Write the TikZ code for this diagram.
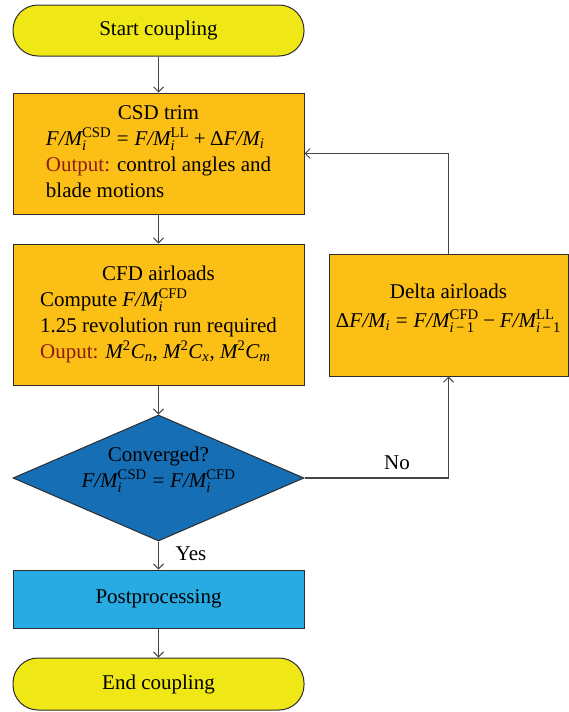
\documentclass[tikz,border=0pt]{standalone}
\usepackage{amsmath}
\usepackage{fontspec}
\setmainfont{Liberation Serif}
\usetikzlibrary{arrows.meta,shapes.geometric}
\definecolor{pill}{RGB}{240,232,22}
\definecolor{ora}{RGB}{251,191,22}
\definecolor{dblue}{RGB}{22,110,181}
\definecolor{lblue}{RGB}{40,170,226}
\definecolor{outred}{RGB}{140,28,20}
\definecolor{edge}{RGB}{45,45,45}
\definecolor{conn}{RGB}{70,70,70}
\newcommand\FM{\text{\itshape F/M}}
\newcommand\ii{\text{\itshape i}}
\newcommand\EQ{\mathrel{\text{=}}}
\newcommand\PL{\mathbin{\text{+}}}
\newcommand\MI{\mathbin{\text{−}}}
\newcommand\SMI{\,\text{−}\,}
\begin{document}
\begin{tikzpicture}[x=1pt,y=-1pt,
  font=\fontsize{21}{26}\selectfont,
  shape box/.style={draw=edge, line width=1pt, inner sep=0pt, align=center, minimum width=291pt},
  pillbox/.style={shape box, fill=pill, rounded corners=25pt},
  orabox/.style={shape box, fill=ora},
  decision/.style={diamond, draw=edge, line width=1pt, fill=dblue, inner sep=0pt, minimum width=291pt, minimum height=126pt},
  postbox/.style={shape box, fill=lblue},
  arr/.style={draw=conn, line width=1.2pt, -{Straight Barb[length=5pt,width=10pt,line width=1pt]}},
  lbl/.style={inner sep=0pt}
]
\useasboundingbox (0,0) rectangle (569,712);

\node[pillbox, minimum height=51pt] (start) at (158.5,30.5) {Start coupling};

\node[orabox, minimum height=121pt] (csd) at (158.5,153.5) {\begin{tabular}{@{}l@{}}
\multicolumn{1}{@{}c@{}}{CSD trim}\\
$\FM^{\text{CSD}}_{\ii} \EQ \FM^{\text{LL}}_{\ii} \PL \text{Δ}\FM_{\ii}$\\
\textcolor{outred}{Output:} control angles and\\
blade motions
\end{tabular}};

\node[orabox, minimum height=141pt] (cfd) at (158.5,314.5) {\begin{tabular}{@{}l@{}}
\multicolumn{1}{@{}c@{}}{CFD airloads}\\
Compute $\FM^{\text{CFD}}_{\ii}$\\
1.25 revolution run required\\
\textcolor{outred}{Ouput:} $\text{\itshape M}^{\text{2}}\text{\itshape C}_{\text{\itshape n}}$, $\text{\itshape M}^{\text{2}}\text{\itshape C}_{\text{\itshape x}}$, $\text{\itshape M}^{\text{2}}\text{\itshape C}_{\text{\itshape m}}$
\end{tabular}};

\node[orabox, minimum width=239pt, minimum height=122pt] (delta) at (448.5,315) {};
\node[lbl] (deltatext) at (448.5,308) {\begin{tabular}{@{}c@{}}
Delta airloads\\[3pt]
$\text{Δ}\FM_{\ii} \EQ \FM^{\text{CFD}}_{\ii\SMI\text{1}} \MI \FM^{\text{LL}}_{\ii\SMI\text{1}}$
\end{tabular}};

\node[decision] (dia) at (158.5,478) {};
\node[lbl] (diatext) at (158.5,469.5) {\begin{tabular}{@{}c@{}}
Converged?\\
$\FM^{\text{CSD}}_{\ii} \EQ \FM^{\text{CFD}}_{\ii}$
\end{tabular}};

\node[postbox, minimum height=58pt] (post) at (158.5,599) {Postprocessing};

\node[pillbox, minimum height=52pt] (end) at (158.5,684) {End coupling};

\draw[arr] (start.south) -- (csd.north);
\draw[arr] (csd.south) -- (cfd.north);
\draw[arr] (cfd.south) -- (dia.north);
\draw[arr] (dia.south) -- (post.north);
\draw[arr] (post.south) -- (end.north);
\draw[arr] (dia.east) -- (dia.east -| delta.south) -- (delta.south);
\draw[arr] (delta.north) |- (csd.east);

\node[lbl] (yes) at (191,554) {Yes};
\node[lbl] (no) at (397,463) {No};
\end{tikzpicture}
\end{document}
